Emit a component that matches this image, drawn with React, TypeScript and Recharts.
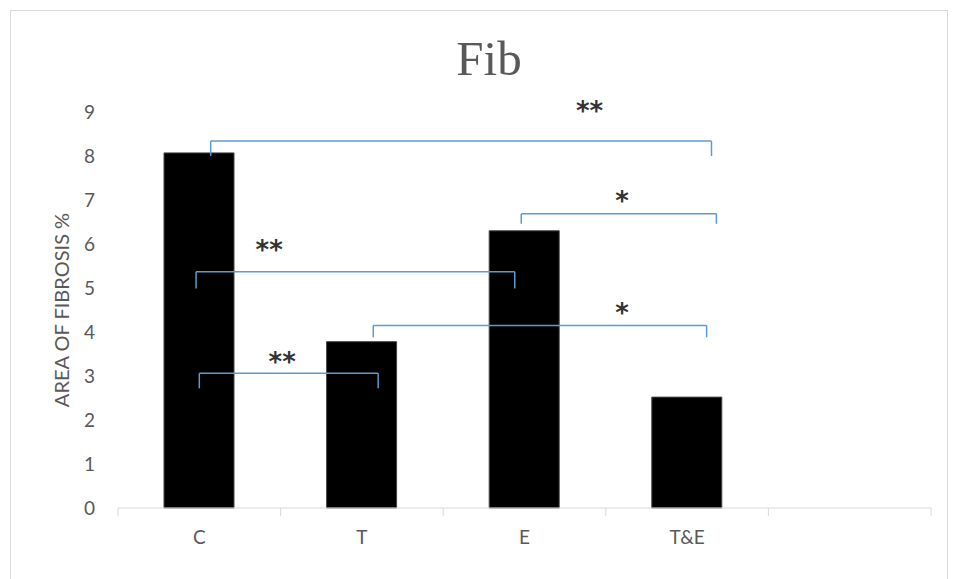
import React from "react";
import { BarChart, Bar, XAxis, YAxis, ReferenceLine, ReferenceDot } from "recharts";

// values
const groups = ["C", "T", "E", "T&E", ""];
const fibrosis = [8.07, 3.78, 6.3, 2.52, null];
const yTicks = [0, 1, 2, 3, 4, 5, 6, 7, 8, 9];
const boundaryTicks = [0, 1, 2, 3, 4, 5];

// significance brackets, in axis units (x: 0..5 over the groups, y: % value)
const bracketX1 = [0.57, 2.48, 0.48, 1.57, 0.5];
const bracketX2 = [3.65, 3.68, 2.44, 3.62, 1.6];
const bracketTop = [8.34, 6.69, 5.37, 4.15, 3.06];
const bracketFoot = [8.0, 6.46, 4.99, 3.88, 2.72];
const starX = [2.9, 3.1, 0.93, 3.1, 1.01];
const starY = [9.15, 7.12, 6.0, 4.57, 3.46];
const starText = ["**", "*", "**", "*", "**"];

// each group sits in the middle of its slot on the 0..5 axis
const chartData = groups.map((g, i) => ({ name: g, pos: i + 0.5, value: fibrosis[i] }));

const BLUE = "#5B9BD5";
const GRAY = "#595959";

const Stars = (props: any) => {
  const { cx, cy, text } = props;
  return (
    <text
      x={cx}
      y={cy + 15}
      textAnchor="middle"
      fontFamily="DejaVu Sans"
      fontWeight="bold"
      fontSize={26}
      fill="#333"
    >
      {text}
    </text>
  );
};

const GroupLabel = (props: any) => {
  const { cx, cy, text } = props;
  return (
    <text
      x={cx}
      y={cy + 36}
      textAnchor="middle"
      fontFamily="Lato"
      fontSize={19}
      fill={GRAY}
    >
      {text}
    </text>
  );
};

export default function App() {
  return (
    <div
      style={{
        position: "absolute",
        left: 10,
        top: 10,
        width: 936,
        height: 570,
        border: "1px solid #d9d9d9",
        background: "#fff",
      }}
    >
      <div
        style={{
          position: "absolute",
          left: 0,
          top: 23,
          width: 956,
          textAlign: "center",
          fontFamily: "Liberation Serif",
          fontSize: 49,
          lineHeight: 1,
          color: GRAY,
        }}
      >
        Fib
      </div>
      <BarChart
        width={936}
        height={570}
        data={chartData}
        margin={{ top: 101, right: 16, left: 0, bottom: 32 }}
      >
        <XAxis
          dataKey="pos"
          type="number"
          domain={[0, 5]}
          ticks={boundaryTicks}
          tickFormatter={() => ""}
          height={41}
          stroke="#d9d9d9"
          tickSize={8}
          allowDataOverflow
        />
        <YAxis
          domain={[0, 9]}
          ticks={yTicks}
          axisLine={false}
          tickLine={false}
          tickSize={0}
          tickMargin={23}
          width={107}
          tick={{ fill: GRAY, fontSize: 19, fontFamily: "Lato" }}
          label={{
            value: "AREA OF FIBROSIS %",
            angle: -90,
            position: "center",
            dx: -3,
            fill: GRAY,
            fontSize: 20,
            fontFamily: "Lato",
          }}
        />
        <Bar
          dataKey="value"
          fill="#000"
          stroke="#444"
          strokeWidth={1}
          barSize={70}
          isAnimationActive={false}
        />
        {bracketTop.map((top, i) => (
          <ReferenceLine
            key={"h" + i}
            segment={[
              { x: bracketX1[i], y: top },
              { x: bracketX2[i], y: top },
            ]}
            stroke={BLUE}
            strokeWidth={1.5}
            ifOverflow="visible"
          />
        ))}
        {bracketTop.map((top, i) => (
          <ReferenceLine
            key={"l" + i}
            segment={[
              { x: bracketX1[i], y: top },
              { x: bracketX1[i], y: bracketFoot[i] },
            ]}
            stroke={BLUE}
            strokeWidth={1.5}
            ifOverflow="visible"
          />
        ))}
        {bracketTop.map((top, i) => (
          <ReferenceLine
            key={"r" + i}
            segment={[
              { x: bracketX2[i], y: top },
              { x: bracketX2[i], y: bracketFoot[i] },
            ]}
            stroke={BLUE}
            strokeWidth={1.5}
            ifOverflow="visible"
          />
        ))}
        {starText.map((s, i) => (
          <ReferenceDot
            key={"s" + i}
            x={starX[i]}
            y={starY[i]}
            r={0}
            ifOverflow="visible"
            shape={(p: any) => <Stars {...p} text={s} />}
          />
        ))}
        {chartData.map((d, i) => (
          <ReferenceDot
            key={"g" + i}
            x={d.pos}
            y={0}
            r={0}
            ifOverflow="visible"
            shape={(p: any) => <GroupLabel {...p} text={d.name} />}
          />
        ))}
      </BarChart>
    </div>
  );
}
